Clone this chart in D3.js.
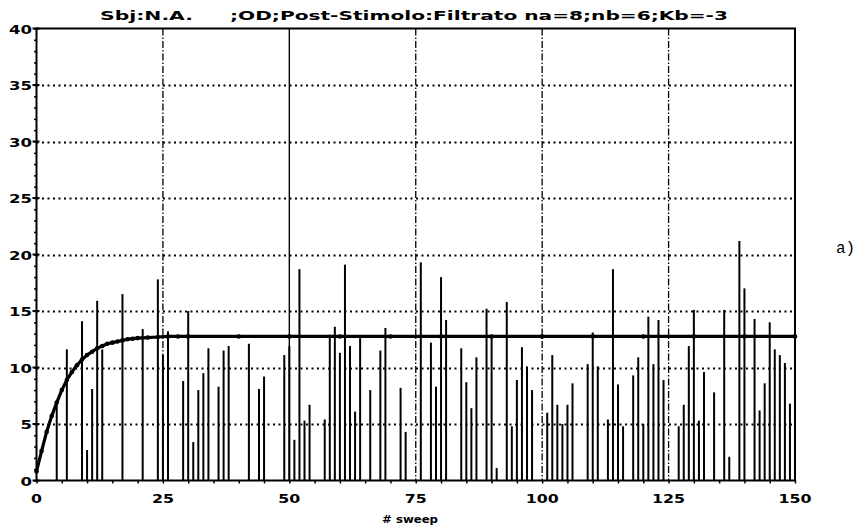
<!DOCTYPE html>
<html>
<head>
<meta charset="utf-8">
<script src="https://cdn.jsdelivr.net/npm/d3@7"></script>
<style>
  body { margin: 0; background: #fff; }
  svg text { font-family: "DejaVu Sans", sans-serif; font-weight: bold; fill: #000; }
</style>
</head>
<body>
<div id="chart"></div>
<script>
// stems: sweep number and amplitude
var sweeps = [4,6,9,10,11,12,13,17,21,24,25,26,29,30,31,32,33,34,36,37,38,42,44,45,49,50,
  51,52,53,54,57,58,59,60,61,62,63,64,66,68,69,72,73,76,78,79,80,81,84,85,86,87,89,90,
  91,93,94,95,96,97,98,101,102,103,104,105,106,109,110,111,113,114,115,116,118,119,120,
  121,122,123,124,127,128,129,130,131,132,134,136,137,139,140,142,143,144,145,146,147,148,149];
var amplitudes = [7.0,11.6,14.1,2.7,8.1,15.9,11.6,16.5,13.4,17.8,11.1,13.2,8.8,15.0,3.4,8.0,9.5,11.7,8.3,11.5,11.9,12.1,8.1,9.2,11.1,11.9,
  3.6,18.7,5.3,6.7,5.4,12.9,13.6,11.3,19.1,11.9,6.1,12.6,8.0,11.5,13.5,8.2,4.3,19.3,12.2,8.3,18.0,14.2,11.7,8.7,6.4,10.9,15.2,12.8,
  1.1,15.8,4.8,8.9,11.8,10.1,8.0,6.0,11.1,6.7,5.0,6.7,8.6,10.3,13.1,10.1,5.4,18.7,8.5,4.8,9.3,10.9,5.0,
  14.5,10.3,14.2,8.9,4.8,6.7,11.9,15.1,5.3,9.6,7.8,15.1,2.1,21.2,17.0,14.3,6.2,8.6,14.0,11.6,11.1,10.4,6.8];

// fitted curve
var curveSweeps = [0,1,2,3,4,5,6,7,8,9,10,11,12,13,14,15,16,17,18,19,20,22,24,26,28,30,
  40,50,60,70,80,90,100,110,120,130,140,150];
var curveValues = [0.8,2.6,4.3,5.7,6.9,8.0,8.9,9.6,10.2,10.7,11.1,11.4,11.7,11.9,12.1,12.2,12.3,12.4,12.5,12.55,12.6,12.65,12.7,12.75,12.75,12.75,
  12.75,12.75,12.75,12.75,12.75,12.75,12.75,12.75,12.75,12.75,12.75,12.75];

var xTicks = [0,25,50,75,100,125,150];
var yTicks = [0,5,10,15,20,25,30,35,40];

var title1 = "Sbj:N.A.";
var title2 = ";OD;Post-Stimolo:Filtrato na=8;nb=6;Kb=-3";
var xLabel = "# sweep";
var panelLabel = "a)";

var W = 863, H = 530;
var mLeft = 36.5, mRight = 795, mTop = 28.5, mBottom = 480.5;

var svg = d3.select("#chart").append("svg").attr("width", W).attr("height", H);

var x = d3.scaleLinear().domain([0,150]).range([mLeft, mRight]);
var y = d3.scaleLinear().domain([0,40]).range([mBottom, mTop]);

// horizontal dotted grid
svg.selectAll(".hgrid").data(yTicks.filter(function(d){ return d > 0 && d < 40; })).enter()
  .append("line")
  .attr("x1", mLeft).attr("x2", mRight)
  .attr("y1", function(d){ return Math.round(y(d)) + 0.5; }).attr("y2", function(d){ return Math.round(y(d)) + 0.5; })
  .attr("stroke", "#000").attr("stroke-width", 2)
  .attr("stroke-dasharray", "2,3.5");

// vertical grid
svg.selectAll(".vgrid").data(xTicks.filter(function(d){ return d > 0 && d < 150; })).enter()
  .append("line")
  .attr("x1", function(d){ return x(d); }).attr("x2", function(d){ return x(d); })
  .attr("y1", mTop).attr("y2", mBottom)
  .attr("stroke", "#000")
  .attr("stroke-width", function(d){ return d == 50 ? 1.4 : 1.3; })
  .attr("stroke-dasharray", function(d){ return d == 50 ? null : "7,2,1.5,2"; });

// stems
svg.selectAll(".stem").data(sweeps).enter()
  .append("line")
  .attr("x1", function(d){ return x(d); }).attr("x2", function(d){ return x(d); })
  .attr("y1", y(0)).attr("y2", function(d,i){ return y(amplitudes[i]); })
  .attr("stroke", "#000").attr("stroke-width", 2);

// curve
var line = d3.line()
  .x(function(d,i){ return x(d); })
  .y(function(d,i){ return y(curveValues[i]); });
svg.append("path")
  .attr("d", line(curveSweeps))
  .attr("fill", "none").attr("stroke", "#000").attr("stroke-width", 3.2);
svg.selectAll(".cdot").data(curveSweeps).enter()
  .append("circle")
  .attr("cx", function(d){ return x(d); })
  .attr("cy", function(d,i){ return y(curveValues[i]); })
  .attr("r", 2.3).attr("fill", "#000");

// frame
svg.append("rect")
  .attr("x", mLeft).attr("y", mTop)
  .attr("width", mRight - mLeft).attr("height", mBottom - mTop)
  .attr("fill", "none").attr("stroke", "#000").attr("stroke-width", 2);

// axes
var xAxis = d3.axisBottom(x).tickValues(d3.range(0, 151, 5)).tickSize(3).tickFormat("");
svg.append("g").attr("transform", "translate(0," + mBottom + ")").call(xAxis)
  .call(function(g){ g.select(".domain").remove(); g.selectAll("line").attr("stroke-width", 1.5); });

var yAxis = d3.axisLeft(y).tickValues(d3.range(0, 41, 1)).tickSize(2.5).tickFormat("");
svg.append("g").attr("transform", "translate(" + mLeft + ",0)").call(yAxis)
  .call(function(g){ g.select(".domain").remove(); g.selectAll("line").attr("stroke-width", 1.5); });

svg.selectAll(".ymaj").data(yTicks).enter()
  .append("line")
  .attr("x1", mLeft - 4).attr("x2", mLeft + 3)
  .attr("y1", function(d){ return y(d); }).attr("y2", function(d){ return y(d); })
  .attr("stroke", "#000").attr("stroke-width", 2);

// tick labels
svg.selectAll(".xlab").data(xTicks).enter()
  .append("text")
  .attr("x", function(d){ return x(d); })
  .attr("y", 503)
  .attr("text-anchor", "middle")
  .attr("font-size", 13)
  .attr("textLength", function(d){ return String(d).length * 11; })
  .attr("lengthAdjust", "spacingAndGlyphs")
  .text(function(d){ return d; });

svg.selectAll(".ylab").data(yTicks).enter()
  .append("text")
  .attr("x", 32)
  .attr("y", function(d){ return y(d) + 5; })
  .attr("text-anchor", "end")
  .attr("font-size", 13)
  .attr("textLength", function(d){ return String(d).length * 11.5; })
  .attr("lengthAdjust", "spacingAndGlyphs")
  .text(function(d){ return d; });

// titles
svg.append("text")
  .attr("x", 100).attr("y", 20)
  .attr("font-size", 13)
  .attr("textLength", 93).attr("lengthAdjust", "spacingAndGlyphs")
  .text(title1);
svg.append("text")
  .attr("x", 230).attr("y", 20)
  .attr("font-size", 13)
  .attr("textLength", 498).attr("lengthAdjust", "spacingAndGlyphs")
  .text(title2);

svg.append("text")
  .attr("x", 410).attr("y", 523)
  .attr("text-anchor", "middle")
  .attr("font-size", 11)
  .attr("textLength", 56).attr("lengthAdjust", "spacingAndGlyphs")
  .text(xLabel);

svg.append("text")
  .attr("x", 836).attr("y", 253)
  .attr("font-size", 16)
  .style("font-family", "'Liberation Mono', monospace")
  .style("font-weight", "normal")
  .text(panelLabel);
</script>
</body>
</html>
